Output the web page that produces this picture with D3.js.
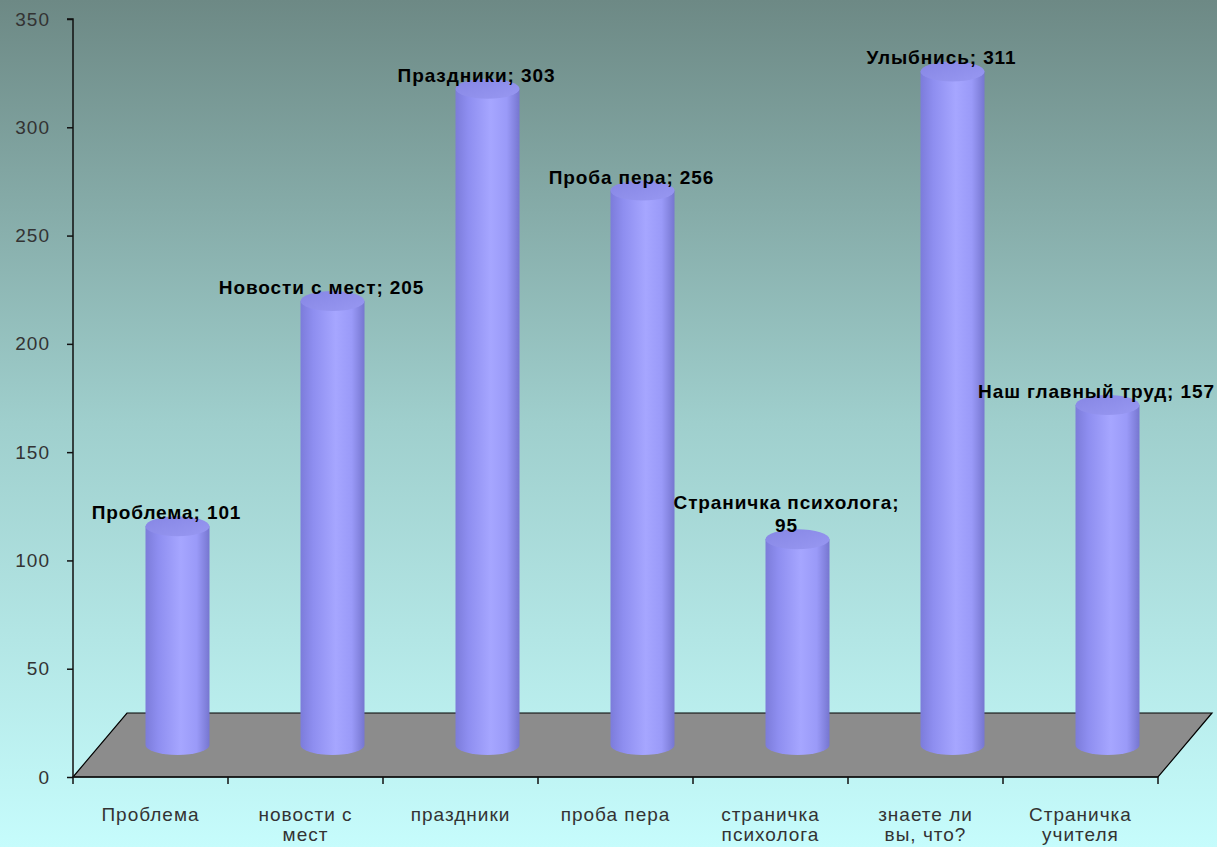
<!DOCTYPE html>
<html>
<head>
<meta charset="utf-8">
<script src="https://cdn.jsdelivr.net/npm/d3@7"></script>
<style>
  body { margin: 0; }
  svg { display: block; font-family: "Liberation Sans", Arial, sans-serif; }
</style>
</head>
<body>
<script>
const categories = ["Проблема", "новости с мест", "праздники", "проба пера", "страничка психолога", "знаете ли вы, что?", "Страничка учителя"]
const labelNames = ["Проблема", "Новости с мест", "Праздники", "Проба пера", "Страничка психолога", "Улыбнись", "Наш главный труд"]
const values = [101, 205, 303, 256, 95, 311, 157]
const yTicks = [0, 50, 100, 150, 200, 250, 300, 350]

const width = 1217, height = 847
const plotLeft = 73, plotRight = 1158, plotTop = 19, plotBottom = 777
const depthX = 54, depthY = -64

const svg = d3.select("body")
    .append("svg")
    .attr("width", width)
    .attr("height", height)

const defs = svg.append("defs")

const bg = defs.append("linearGradient").attr("id", "bg")
    .attr("x1", 0).attr("y1", 0).attr("x2", 0).attr("y2", 1)
bg.append("stop").attr("offset", "0%").attr("stop-color", "#6d8985")
bg.append("stop").attr("offset", "50%").attr("stop-color", "#9fcfcd")
bg.append("stop").attr("offset", "100%").attr("stop-color", "#c6fcfc")

const cyl = defs.append("linearGradient").attr("id", "cyl")
    .attr("x1", 0).attr("y1", 0).attr("x2", 1).attr("y2", 0)
cyl.append("stop").attr("offset", "0%").attr("stop-color", "#7c7cda")
cyl.append("stop").attr("offset", "20%").attr("stop-color", "#8e8ef0")
cyl.append("stop").attr("offset", "55%").attr("stop-color", "#a6a6ff")
cyl.append("stop").attr("offset", "80%").attr("stop-color", "#9a9af8")
cyl.append("stop").attr("offset", "100%").attr("stop-color", "#7676d0")

const cap = defs.append("linearGradient").attr("id", "cap")
    .attr("x1", 0).attr("y1", 0).attr("x2", 1).attr("y2", 1)
cap.append("stop").attr("offset", "0%").attr("stop-color", "#8686e4")
cap.append("stop").attr("offset", "100%").attr("stop-color", "#9898f2")

svg.append("rect")
    .attr("width", width).attr("height", height)
    .attr("fill", "url(#bg)")

const xScale = d3.scaleBand().domain(categories).range([plotLeft, plotRight])
const yScale = d3.scaleLinear().domain([0, 350]).range([plotBottom, plotTop])

// floor
svg.append("path")
    .attr("d", `M${plotLeft},${plotBottom} L${plotRight},${plotBottom} L${plotRight + depthX},${plotBottom + depthY} L${plotLeft + depthX},${plotBottom + depthY} Z`)
    .attr("fill", "#8c8c8c")
    .attr("stroke", "#000")
    .attr("stroke-width", 1.2)

// y axis
const yaxis = d3.axisLeft(yScale).tickValues(yTicks).tickSize(6).tickPadding(17)
const gy = svg.append("g")
    .attr("transform", `translate(${plotLeft},0)`)
    .call(yaxis)
gy.select(".domain").attr("stroke", "#111").attr("stroke-width", 1.5).attr("d", `M-6,${plotTop}H0V${plotBottom}`)
gy.selectAll(".tick line").attr("stroke", "#111").attr("stroke-width", 1.5)
gy.selectAll(".tick text")
    .attr("font-size", 19)
    .attr("letter-spacing", 1)
    .attr("fill", "#333")
    .attr("font-family", "Liberation Sans, Arial")

// x axis ticks at category boundaries
const boundaries = categories.map(c => xScale(c)).concat([plotRight])
svg.append("line")
    .attr("x1", plotLeft).attr("x2", plotRight).attr("y1", plotBottom).attr("y2", plotBottom)
    .attr("stroke", "#111").attr("stroke-width", 1.5)
svg.selectAll(".xtick")
    .data(boundaries)
    .enter().append("line")
    .attr("x1", d => d).attr("x2", d => d)
    .attr("y1", plotBottom).attr("y2", plotBottom + 7)
    .attr("stroke", "#111").attr("stroke-width", 1.5)

// category labels
function wrapWords(text, maxChars) {
    const words = text.split(" ")
    const lines = []
    let cur = ""
    words.forEach(w => {
        const t = cur ? cur + " " + w : w
        if (t.length > maxChars && cur) { lines.push(cur); cur = w } else cur = t
    })
    lines.push(cur)
    return lines
}
categories.forEach(c => {
    const t = svg.append("text")
        .attr("x", xScale(c) + xScale.bandwidth() / 2)
        .attr("y", 821)
        .attr("text-anchor", "middle")
        .attr("font-size", 19)
        .attr("letter-spacing", 1)
        .attr("fill", "#333")
    wrapWords(c, 10).forEach((line, i) => {
        t.append("tspan")
            .attr("x", xScale(c) + xScale.bandwidth() / 2)
            .attr("dy", i === 0 ? 0 : 20)
            .text(line)
    })
})

// cylinders
const rx = 32, ry = 10
const data = categories.map((c, i) => ({ cat: c, name: labelNames[i], value: values[i] }))
const baseY = plotBottom + depthY / 2

const bars = svg.selectAll(".bar")
    .data(data)
    .enter().append("g")
    .attr("class", "bar")

bars.append("path")
    .attr("d", d => {
        const cx = xScale(d.cat) + xScale.bandwidth() / 2 + depthX / 2
        const yTop = baseY - (plotBottom - yScale(d.value))
        return `M${cx - rx},${yTop} L${cx - rx},${baseY} A${rx},${ry} 0 0 0 ${cx + rx},${baseY} L${cx + rx},${yTop} Z`
    })
    .attr("fill", "url(#cyl)")

bars.append("ellipse")
    .attr("cx", d => xScale(d.cat) + xScale.bandwidth() / 2 + depthX / 2)
    .attr("cy", d => baseY - (plotBottom - yScale(d.value)))
    .attr("rx", rx).attr("ry", ry)
    .attr("fill", "url(#cap)")

// data labels
bars.each(function (d) {
    const cx = xScale(d.cat) + xScale.bandwidth() / 2 + depthX / 2 - 11
    const yTop = baseY - (plotBottom - yScale(d.value))
    const lines = d.name.length > 17 ? [d.name + ";", String(d.value)] : [d.name + "; " + d.value]
    const t = d3.select(this).append("text")
        .attr("text-anchor", "middle")
        .attr("font-size", 19)
        .attr("letter-spacing", 0.9)
        .attr("font-weight", "bold")
        .attr("fill", "#000")
    lines.forEach((line, i) => {
        t.append("tspan")
            .attr("x", cx)
            .attr("y", yTop - 7 - (lines.length - 1 - i) * 23)
            .text(line)
    })
})
</script>
</body>
</html>
